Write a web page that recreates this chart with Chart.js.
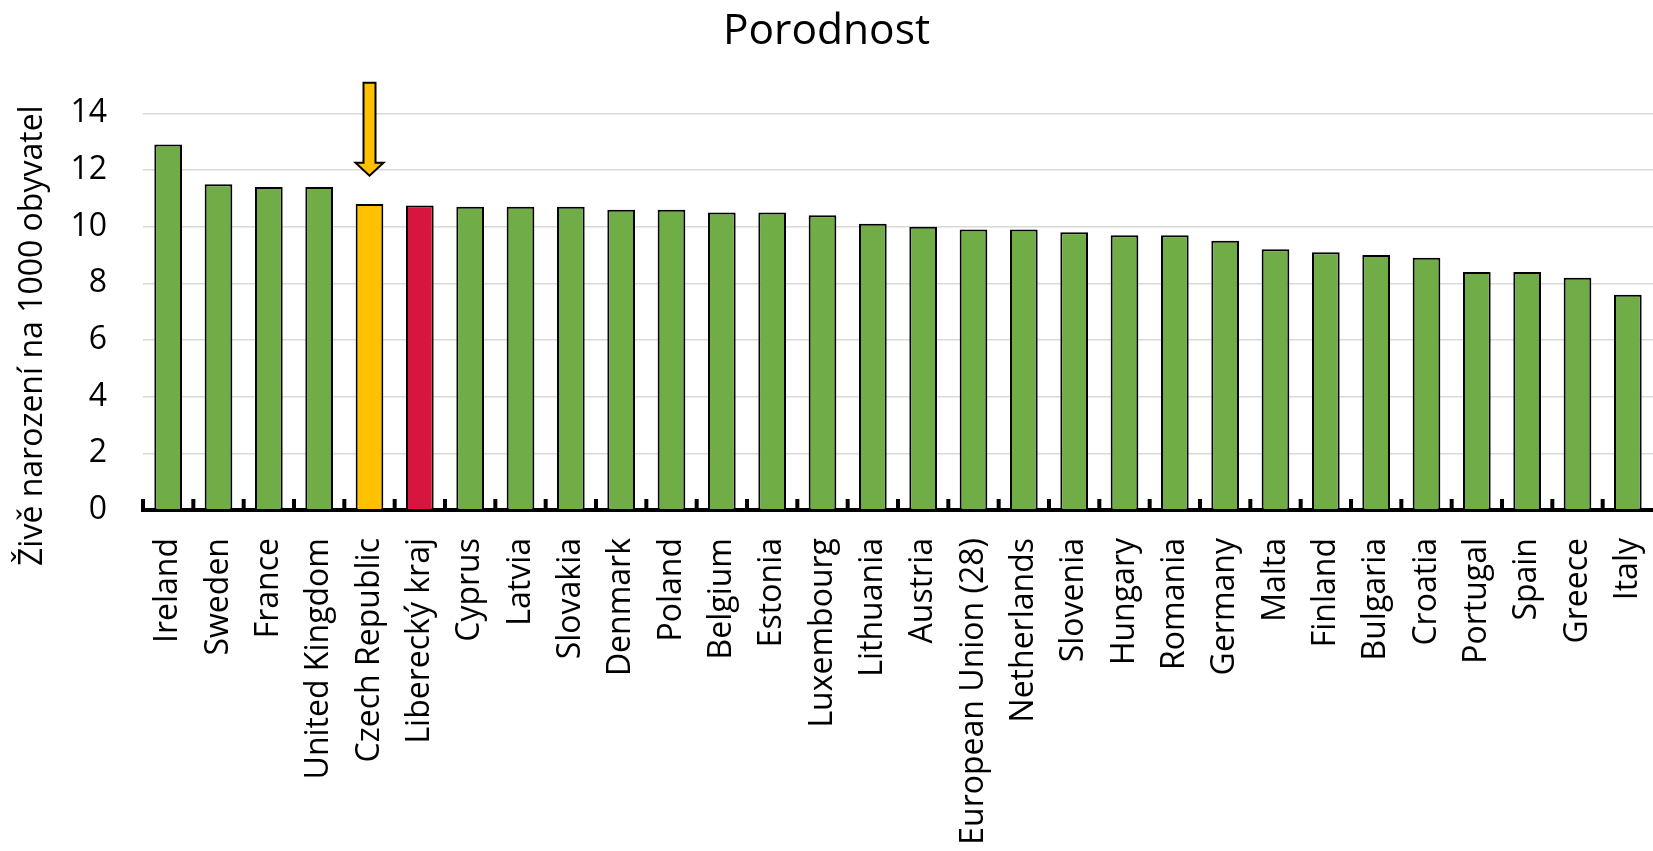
<!DOCTYPE html>
<html lang="cs">
<head>
<meta charset="utf-8">
<title>Porodnost</title>
<script src="https://cdn.jsdelivr.net/npm/chart.js@4.4.1/dist/chart.umd.min.js"></script>
<style>
    html, body { margin: 0; padding: 0; background: #fff; }
    canvas { display: block; }
</style>
</head>
<body>
<canvas id="graf-porodnost" width="1653" height="851"></canvas>
<script>
const staty = [
    'Ireland', 'Sweden', 'France', 'United Kingdom', 'Czech Republic', 'Liberecký kraj',
    'Cyprus', 'Latvia', 'Slovakia', 'Denmark', 'Poland', 'Belgium', 'Estonia', 'Luxembourg',
    'Lithuania', 'Austria', 'European Union (28)', 'Netherlands', 'Slovenia', 'Hungary',
    'Romania', 'Germany', 'Malta', 'Finland', 'Bulgaria', 'Croatia', 'Portugal', 'Spain',
    'Greece', 'Italy'
];
const porodnost = [
    12.9, 11.5, 11.4, 11.4, 10.8, 10.75,
    10.7, 10.7, 10.7, 10.6, 10.6, 10.5, 10.5, 10.4,
    10.1, 10.0, 9.9, 9.9, 9.8, 9.7,
    9.7, 9.5, 9.2, 9.1, 9.0, 8.9, 8.4, 8.4,
    8.2, 7.6
];
const hodnotyOsyY = [0, 2, 4, 6, 8, 10, 12, 14];
const nadpis = 'Porodnost';
const popisekOsyY = 'Živě narození na 1000 obyvatel';
const zvyraznene = { 'Czech Republic': '#FFC000', 'Liberecký kraj': '#D7163F' };
const statSeSipkou = 'Czech Republic';

Chart.defaults.font.family = '"Open Sans", "DejaVu Sans", sans-serif';
Chart.defaults.color = '#000';

// krátké značky osy X mezi sloupci, směrem dovnitř grafu
const znackyOsyX = {
    id: 'znackyOsyX',
    afterDraw(chart) {
        const { ctx, chartArea } = chart;
        const osaX = chart.scales.x;
        const krok = osaX.getPixelForValue(1) - osaX.getPixelForValue(0);
        ctx.save();
        ctx.fillStyle = '#000';
        for (let i = 0; i < staty.length; i++) {
            const x = osaX.getPixelForValue(i) - krok / 2;
            ctx.fillRect(x - 2, chartArea.bottom - 11, 4, 11);
        }
        ctx.restore();
    }
};

const sipka = {
    id: 'sipka',
    afterDraw(chart) {
        const { ctx } = chart;
        const i = staty.indexOf(statSeSipkou);
        if (i < 0) return;
        const x = chart.scales.x.getPixelForValue(i);
        const yHrot = chart.scales.y.getPixelForValue(porodnost[i] + 1.0);
        const yKonec = chart.scales.y.getPixelForValue(porodnost[i] + 4.28);
        const yHlava = yHrot - 13;
        ctx.save();
        ctx.beginPath();
        ctx.moveTo(x - 6, yKonec);
        ctx.lineTo(x + 6, yKonec);
        ctx.lineTo(x + 6, yHlava);
        ctx.lineTo(x + 14, yHlava);
        ctx.lineTo(x, yHrot);
        ctx.lineTo(x - 14, yHlava);
        ctx.lineTo(x - 6, yHlava);
        ctx.closePath();
        ctx.fillStyle = '#FFC000';
        ctx.fill();
        ctx.lineWidth = 2;
        ctx.strokeStyle = '#000';
        ctx.stroke();
        ctx.restore();
    }
};

const titulekOsyY = {
    id: 'titulekOsyY',
    afterDraw(chart) {
        const { ctx, chartArea } = chart;
        ctx.save();
        ctx.translate(33, (chartArea.top + chartArea.bottom) / 2 + 24);
        ctx.rotate(-Math.PI / 2);
        ctx.font = '32px "Open Sans", sans-serif';
        ctx.fillStyle = '#000';
        ctx.textAlign = 'center';
        ctx.textBaseline = 'middle';
        ctx.fillText(popisekOsyY, 0, 0);
        ctx.restore();
    }
};

new Chart(document.getElementById('graf-porodnost'), {
    type: 'bar',
    data: {
        labels: staty,
        datasets: [{
            label: nadpis,
            data: porodnost,
            backgroundColor: staty.map(stat => zvyraznene[stat] || '#70AD47'),
            borderColor: '#000',
            borderWidth: 2,
            borderSkipped: 'start',
            categoryPercentage: 1,
            barPercentage: 0.55
        }]
    },
    options: {
        responsive: false,
        animation: false,
        layout: { padding: 0 },
        plugins: {
            legend: { display: false },
            tooltip: { enabled: false },
            title: {
                display: true,
                text: nadpis,
                color: '#000',
                font: { size: 42.5, weight: 'normal' },
                padding: { top: 6, bottom: 56.3 }
            }
        },
        scales: {
            x: {
                z: 1,
                offset: true,
                grid: { display: false, drawTicks: false },
                border: { display: true, color: '#000', width: 4 },
                ticks: {
                    autoSkip: false,
                    minRotation: 90,
                    maxRotation: 90,
                    padding: 28,
                    color: '#000',
                    font: { size: 32 }
                },
                afterFit: osa => {
                    osa.height = 341;
                    osa.paddingLeft = 0;
                    osa.paddingRight = 0;
                }
            },
            y: {
                min: hodnotyOsyY[0],
                max: hodnotyOsyY[hodnotyOsyY.length - 1],
                border: { display: false },
                grid: { color: '#D9D9D9', lineWidth: 1.5, drawTicks: false },
                ticks: {
                    stepSize: hodnotyOsyY[1] - hodnotyOsyY[0],
                    padding: 36,
                    color: '#000',
                    font: { size: 32 }
                },
                afterFit: osa => { osa.width = 143; }
            }
        }
    },
    plugins: [znackyOsyX, sipka, titulekOsyY]
});
</script>
</body>
</html>
